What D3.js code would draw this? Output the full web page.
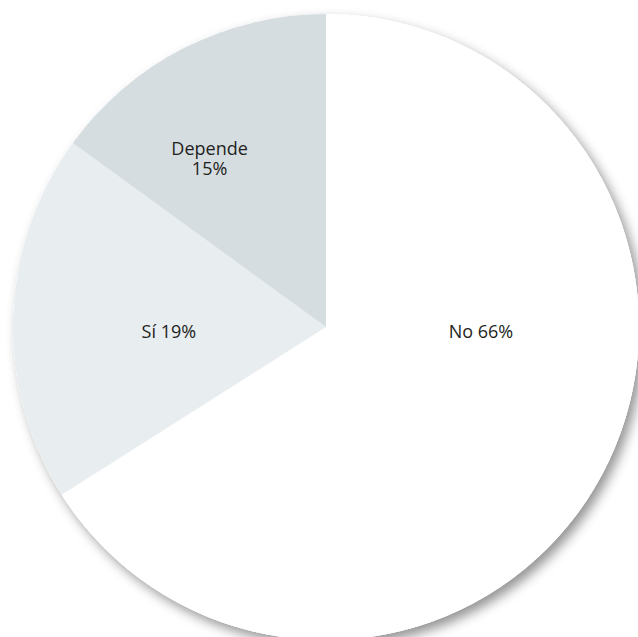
<!DOCTYPE html>
<html>
<head>
<meta charset="utf-8">
<script src="https://cdn.jsdelivr.net/npm/d3@7"></script>
<style>
  body { margin: 0; background: #fff; }
  svg { display: block; }
</style>
</head>
<body>
<div id="chart"></div>
<script>
// data
const categories = ['No', 'Sí', 'Depende'];
const values = [66, 19, 15];
const labels = [['No 66%'], ['Sí 19%'], ['Depende', '15%']];

const width = 638;
const height = 637;
const cx = 326;
const cy = 327;
const radius = 313;
const lineHeight = 20;

// fills per slice
const colors = d3.scaleOrdinal()
    .domain(categories)
    .range(['#ffffff', '#e8edf0', '#d6dde1']);

// first-baseline position of each label, as fraction of radius
const labelOffsets = {
    'No': [0.495, 0.035],
    'Sí': [-0.502, 0.035],
    'Depende': [-0.372, -0.548]
};

const svg = d3.select('#chart')
    .append('svg')
    .attr('width', width)
    .attr('height', height);

const defs = svg.append('defs');
const shadow = defs.append('filter')
    .attr('id', 'shadow')
    .attr('x', '-10%').attr('y', '-10%')
    .attr('width', '120%').attr('height', '120%');
shadow.append('feDropShadow')
    .attr('dx', 5)
    .attr('dy', 6)
    .attr('stdDeviation', 6)
    .attr('flood-color', '#000')
    .attr('flood-opacity', 0.42);

const pie = d3.pie()
    .sort(null)
    .value(d => d.value);

const arc = d3.arc()
    .innerRadius(0)
    .outerRadius(radius);

const data = categories.map((c, i) => ({ name: c, value: values[i], label: labels[i] }));

const g = svg.append('g')
    .attr('transform', 'translate(' + cx + ',' + cy + ')');

// shadow disc behind the slices
g.append('circle')
    .attr('r', radius)
    .attr('fill', '#fff')
    .attr('filter', 'url(#shadow)');

g.selectAll('path.slice')
    .data(pie(data))
    .enter()
    .append('path')
    .classed('slice', true)
    .attr('d', arc)
    .attr('fill', d => colors(d.data.name));

// one text per line
data.forEach(d => {
    d.label.forEach((t, i) => {
        g.append('text')
            .classed('lbl', true)
            .attr('text-anchor', 'middle')
            .attr('font-family', '"Open Sans", "Noto Sans", sans-serif')
            .attr('font-size', '18px')
            .attr('fill', '#231f20')
            .attr('x', labelOffsets[d.name][0] * radius)
            .attr('y', labelOffsets[d.name][1] * radius + i * lineHeight)
            .text(t);
    });
});
</script>
</body>
</html>
